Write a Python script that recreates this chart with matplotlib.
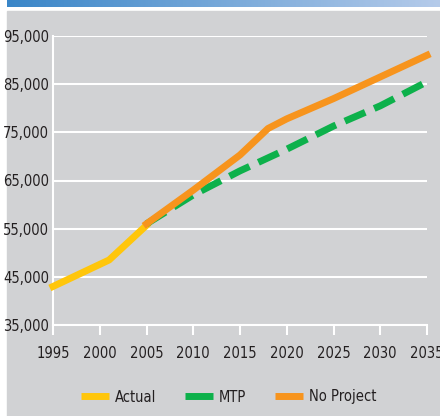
import matplotlib.pyplot as plt
import numpy as np
from matplotlib import font_manager
from matplotlib.colors import LinearSegmentedColormap
from matplotlib.patches import Rectangle

# values
actual_years = [1995, 2001, 2005]
actual_vals = [43000, 48500, 55700]

mtp_years = [2005, 2010, 2015, 2020, 2025, 2030, 2035]
mtp_vals = [56000, 62000, 67000, 71500, 76300, 80500, 85500]

noproj_years = [2005, 2010, 2015, 2018, 2020, 2025, 2030, 2035]
noproj_vals = [56000, 63000, 70300, 75800, 77800, 82000, 86500, 91000]

x_ticks = [1995, 2000, 2005, 2010, 2015, 2020, 2025, 2030, 2035]
y_ticks = [35000, 45000, 55000, 65000, 75000, 85000, 95000]

bg = '#d1d2d4'
yellow = '#ffc60b'
green = '#0db14b'
orange = '#f7941d'
txt = '#231f20'

# pick a narrow font if one is around
names = {f.name for f in font_manager.fontManager.ttflist}
stretch = 'normal'
if 'Liberation Sans Narrow' in names:
    family = 'Liberation Sans Narrow'
else:
    family = 'DejaVu Sans'
    stretch = 'condensed'
plt.rcParams['font.family'] = [family, 'DejaVu Sans']
plt.rcParams['font.stretch'] = stretch
fs = 10.5

fig = plt.figure(figsize=(4.4, 4.16), dpi=100)
W, H = 440, 416

# grey panel and blue gradient band at top
fig.patches.append(Rectangle((7 / W, 0), 1, 1 - 11 / H, transform=fig.transFigure,
                             color=bg, zorder=-10))
band = fig.add_axes([7 / W, 1 - 7 / H, 1 - 7 / W, 7 / H])
band.imshow(np.linspace(0, 1, 256).reshape(1, -1), aspect='auto',
            extent=(0, 1, 0, 1),
            cmap=LinearSegmentedColormap.from_list('b', ['#3a86c8', '#b5cbea']))
band.axis('off')

ax = fig.add_axes([53 / W, 1 - 325 / H, (427 - 53) / W, (325 - 36) / H])
ax.set_facecolor(bg)

ax.plot(actual_years, actual_vals, color=yellow, lw=5, solid_capstyle='projecting',
        clip_on=False, zorder=3, label='Actual')
ax.plot(mtp_years, mtp_vals, color=green, lw=5, dashes=(3.2, 1.4),
        dash_capstyle='butt', clip_on=False, zorder=3, label='MTP')
ax.plot(noproj_years, noproj_vals, color=orange, lw=5, solid_capstyle='projecting',
        clip_on=False, zorder=4, label='No Project')

ax.set_xlim(1995, 2035)
ax.set_ylim(35000, 95000)
ax.set_xticks(x_ticks)
ax.set_yticks(y_ticks)
ax.set_yticklabels([f'{v:,}' for v in y_ticks])
ax.grid(axis='y', color='white', lw=1.5)
ax.set_axisbelow(True)
for s in ['top', 'right']:
    ax.spines[s].set_visible(False)
ax.spines['left'].set_color('white')
ax.spines['left'].set_linewidth(1.5)
ax.spines['bottom'].set_color('white')
ax.spines['bottom'].set_linewidth(1.5)
ax.tick_params(axis='x', colors='white', length=7, width=1.5, pad=8,
               labelcolor=txt, labelsize=fs)
ax.tick_params(axis='y', length=0, pad=3, labelcolor=txt, labelsize=fs)

leg = fig.legend(loc='center', bbox_to_anchor=(0.52, 1 - 397 / H), ncol=3,
                 frameon=False, fontsize=fs, handlelength=1.9, columnspacing=2.0,
                 handletextpad=0.4, labelcolor=txt)
for l in leg.get_lines():
    l.set_linewidth(5)
    l.set_linestyle('-')
    l.set_solid_capstyle('butt')

fig.savefig('out.png', dpi=100, facecolor='white')
